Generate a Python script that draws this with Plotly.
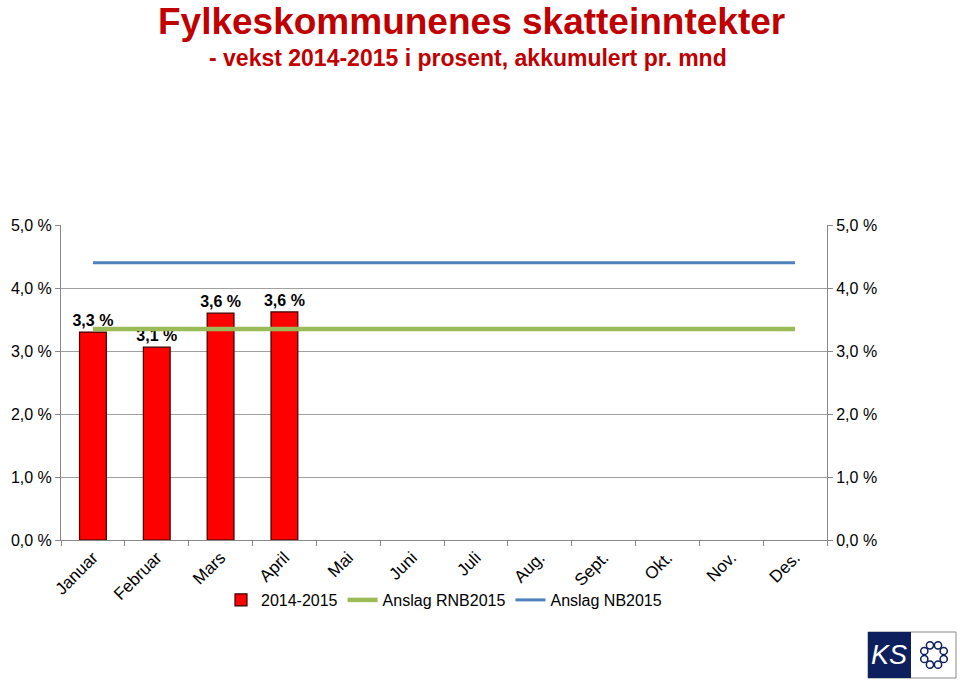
import math
import plotly.graph_objects as go

months = ["Januar", "Februar", "Mars", "April", "Mai", "Juni", "Juli",
          "Aug.", "Sept.", "Okt.", "Nov.", "Des."]
vekst_2014_2015 = [3.30, 3.06, 3.60, 3.62, None, None, None, None, None, None, None, None]
anslag_rnb2015 = [3.35] * 12
anslag_nb2015 = [4.40] * 12
y_ticks = [0, 1, 2, 3, 4, 5]

W, H = 960, 682
L, R, T, B = 61, 827, 225, 540


def px(x):
    return (x - L) / (R - L)


def py(y):
    return (B - y) / (B - T)


def fmt(v):
    return ("%.1f %%" % v).replace(".", ",")


bar_text = ["<b>%s</b>" % fmt(v) if v is not None else "" for v in vekst_2014_2015]
tick_text = [fmt(v) for v in y_ticks]

fig = go.Figure()
fig.add_trace(go.Bar(
    x=months, y=vekst_2014_2015, name="2014-2015",
    marker=dict(color="#FF0000", line=dict(color="#3A0000", width=1.2)),
    width=0.42,
    text=bar_text, textposition="outside", constraintext="none",
    textfont=dict(family="Arial, Liberation Sans", size=16, color="#000000"),
    cliponaxis=False,
))
fig.add_trace(go.Scatter(
    x=months, y=anslag_rnb2015, name="Anslag RNB2015", mode="lines",
    line=dict(color="#9BBB59", width=4.5),
))
fig.add_trace(go.Scatter(
    x=months, y=anslag_nb2015, name="Anslag NB2015", mode="lines",
    line=dict(color="#4F81BD", width=3),
))
# invisible trace to show the right-hand axis
fig.add_trace(go.Scatter(
    x=months, y=anslag_nb2015, yaxis="y2", mode="lines",
    line=dict(color="rgba(0,0,0,0)", width=0), showlegend=False, hoverinfo="skip",
))

axis_font = dict(family="Arial, Liberation Sans", size=16, color="#000000")

fig.update_layout(
    width=W, height=H,
    margin=dict(l=L, r=W - R, t=T, b=H - B),
    paper_bgcolor="white", plot_bgcolor="white",
    separators=", ",
    showlegend=True,
    legend=dict(orientation="h", x=0.5, xanchor="center", y=py(600), yanchor="middle",
                font=dict(family="Arial, Liberation Sans", size=16, color="#000000"),
                traceorder="normal", itemwidth=30, tracegroupgap=0,
                bgcolor="rgba(0,0,0,0)"),
    xaxis=dict(
        type="category", showline=True, linecolor="#888888", linewidth=1,
        ticks="outside", tickson="boundaries", ticklen=5, tickcolor="#888888",
        tickangle=-45, tickfont=dict(family="Arial, Liberation Sans", size=17, color="#000000"),
        showgrid=False, zeroline=False, range=[-0.5, 11.5],
    ),
    yaxis=dict(
        range=[0, 5], tickmode="array", tickvals=y_ticks, ticktext=tick_text,
        showline=True, linecolor="#888888", linewidth=1,
        ticks="outside", ticklen=5, tickcolor="#888888",
        showgrid=True, gridcolor="#A0A0A0", gridwidth=1, zeroline=False,
        tickfont=axis_font,
    ),
    yaxis2=dict(
        range=[0, 5], tickmode="array", tickvals=y_ticks, ticktext=tick_text,
        overlaying="y", side="right",
        showline=True, linecolor="#888888", linewidth=1,
        ticks="outside", ticklen=5, tickcolor="#888888",
        showgrid=False, zeroline=False, tickfont=axis_font,
    ),
)

title_font = "Liberation Sans Narrow, Arial Narrow, Liberation Sans, Arial"
annotations = [
    dict(text="<b>Fylkeskommunenes skatteinntekter</b>", x=px(472), y=py(0),
         xref="paper", yref="paper", showarrow=False, xanchor="center", yanchor="top",
         borderpad=0, font=dict(family=title_font, size=37, color="#C00000")),
    dict(text="<b>- vekst 2014-2015 i prosent, akkumulert pr. mnd</b>", x=px(468), y=py(58),
         xref="paper", yref="paper", showarrow=False, xanchor="center", yanchor="middle",
         font=dict(family=title_font, size=23, color="#C00000")),
    dict(text="<i>KS</i>", x=px(889), y=py(655), xref="paper", yref="paper",
         showarrow=False, xanchor="center", yanchor="middle",
         font=dict(family="Arial, Liberation Sans", size=27, color="white")),
]

shapes = [
    dict(type="rect", xref="paper", yref="paper", x0=px(868), x1=px(956), y0=py(632), y1=py(678),
         line=dict(color="#8A8A8A", width=1), fillcolor="white", layer="above"),
    dict(type="rect", xref="paper", yref="paper", x0=px(868), x1=px(911), y0=py(632), y1=py(678),
         line=dict(width=0), fillcolor="#0D1F5C", layer="above"),
]
cx, cy, rr, sr = 934, 655, 10.5, 3.6
for k in range(8):
    a = 2 * math.pi * k / 8 + math.pi / 8
    x = cx + rr * math.cos(a)
    y = cy + rr * math.sin(a)
    shapes.append(dict(type="circle", xref="paper", yref="paper",
                       x0=px(x - sr), x1=px(x + sr), y0=py(y + sr), y1=py(y - sr),
                       line=dict(color="#0D1F5C", width=1.5), fillcolor="white", layer="above"))

fig.update_layout(annotations=annotations, shapes=shapes)
fig.write_html("out.html")
